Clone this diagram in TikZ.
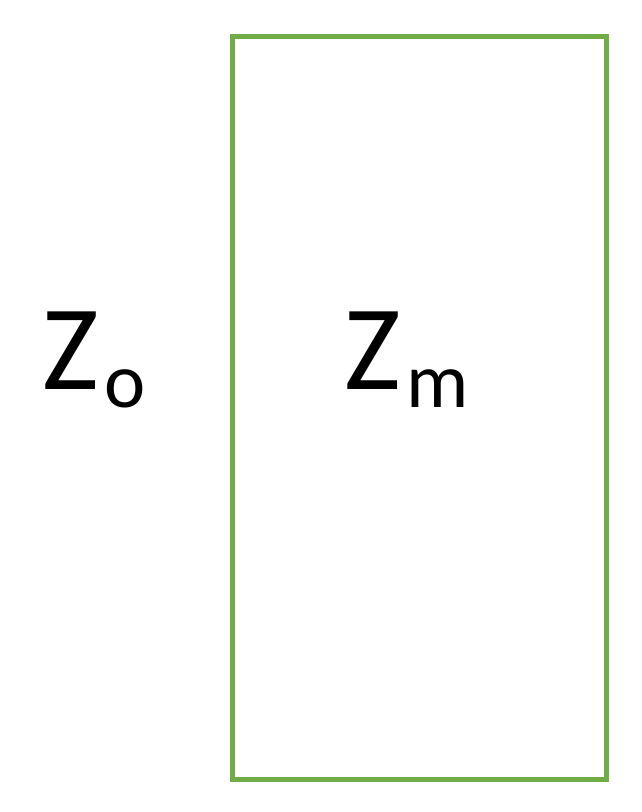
\documentclass[tikz,border=0pt]{standalone}
\usepackage{fontspec}
\setmainfont{Carlito}
\definecolor{boxgreen}{RGB}{112,173,71}
\tikzset{
    z-label/.style = {inner sep=0pt, anchor=base west, font=\fontsize{121}{121}\selectfont},
    green-box/.style = {draw=boxgreen, line width=5pt},
}
\newcommand{\zsub}[1]{\hspace{6pt}\raisebox{-18pt}{\fontsize{78}{78}\selectfont #1}}

\begin{document}
\begin{tikzpicture}[x=1pt,y=1pt]
\useasboundingbox (0,0) rectangle (642,812);
\draw[green-box] (232.5,32.5) rectangle (606,775) node[pos=0.5] (box) {};
\node[z-label] (zo) at (42,422) {Z\zsub{o}};
\node[z-label] (zm) at (344,422) {Z\zsub{m}};
\end{tikzpicture}
\end{document}
